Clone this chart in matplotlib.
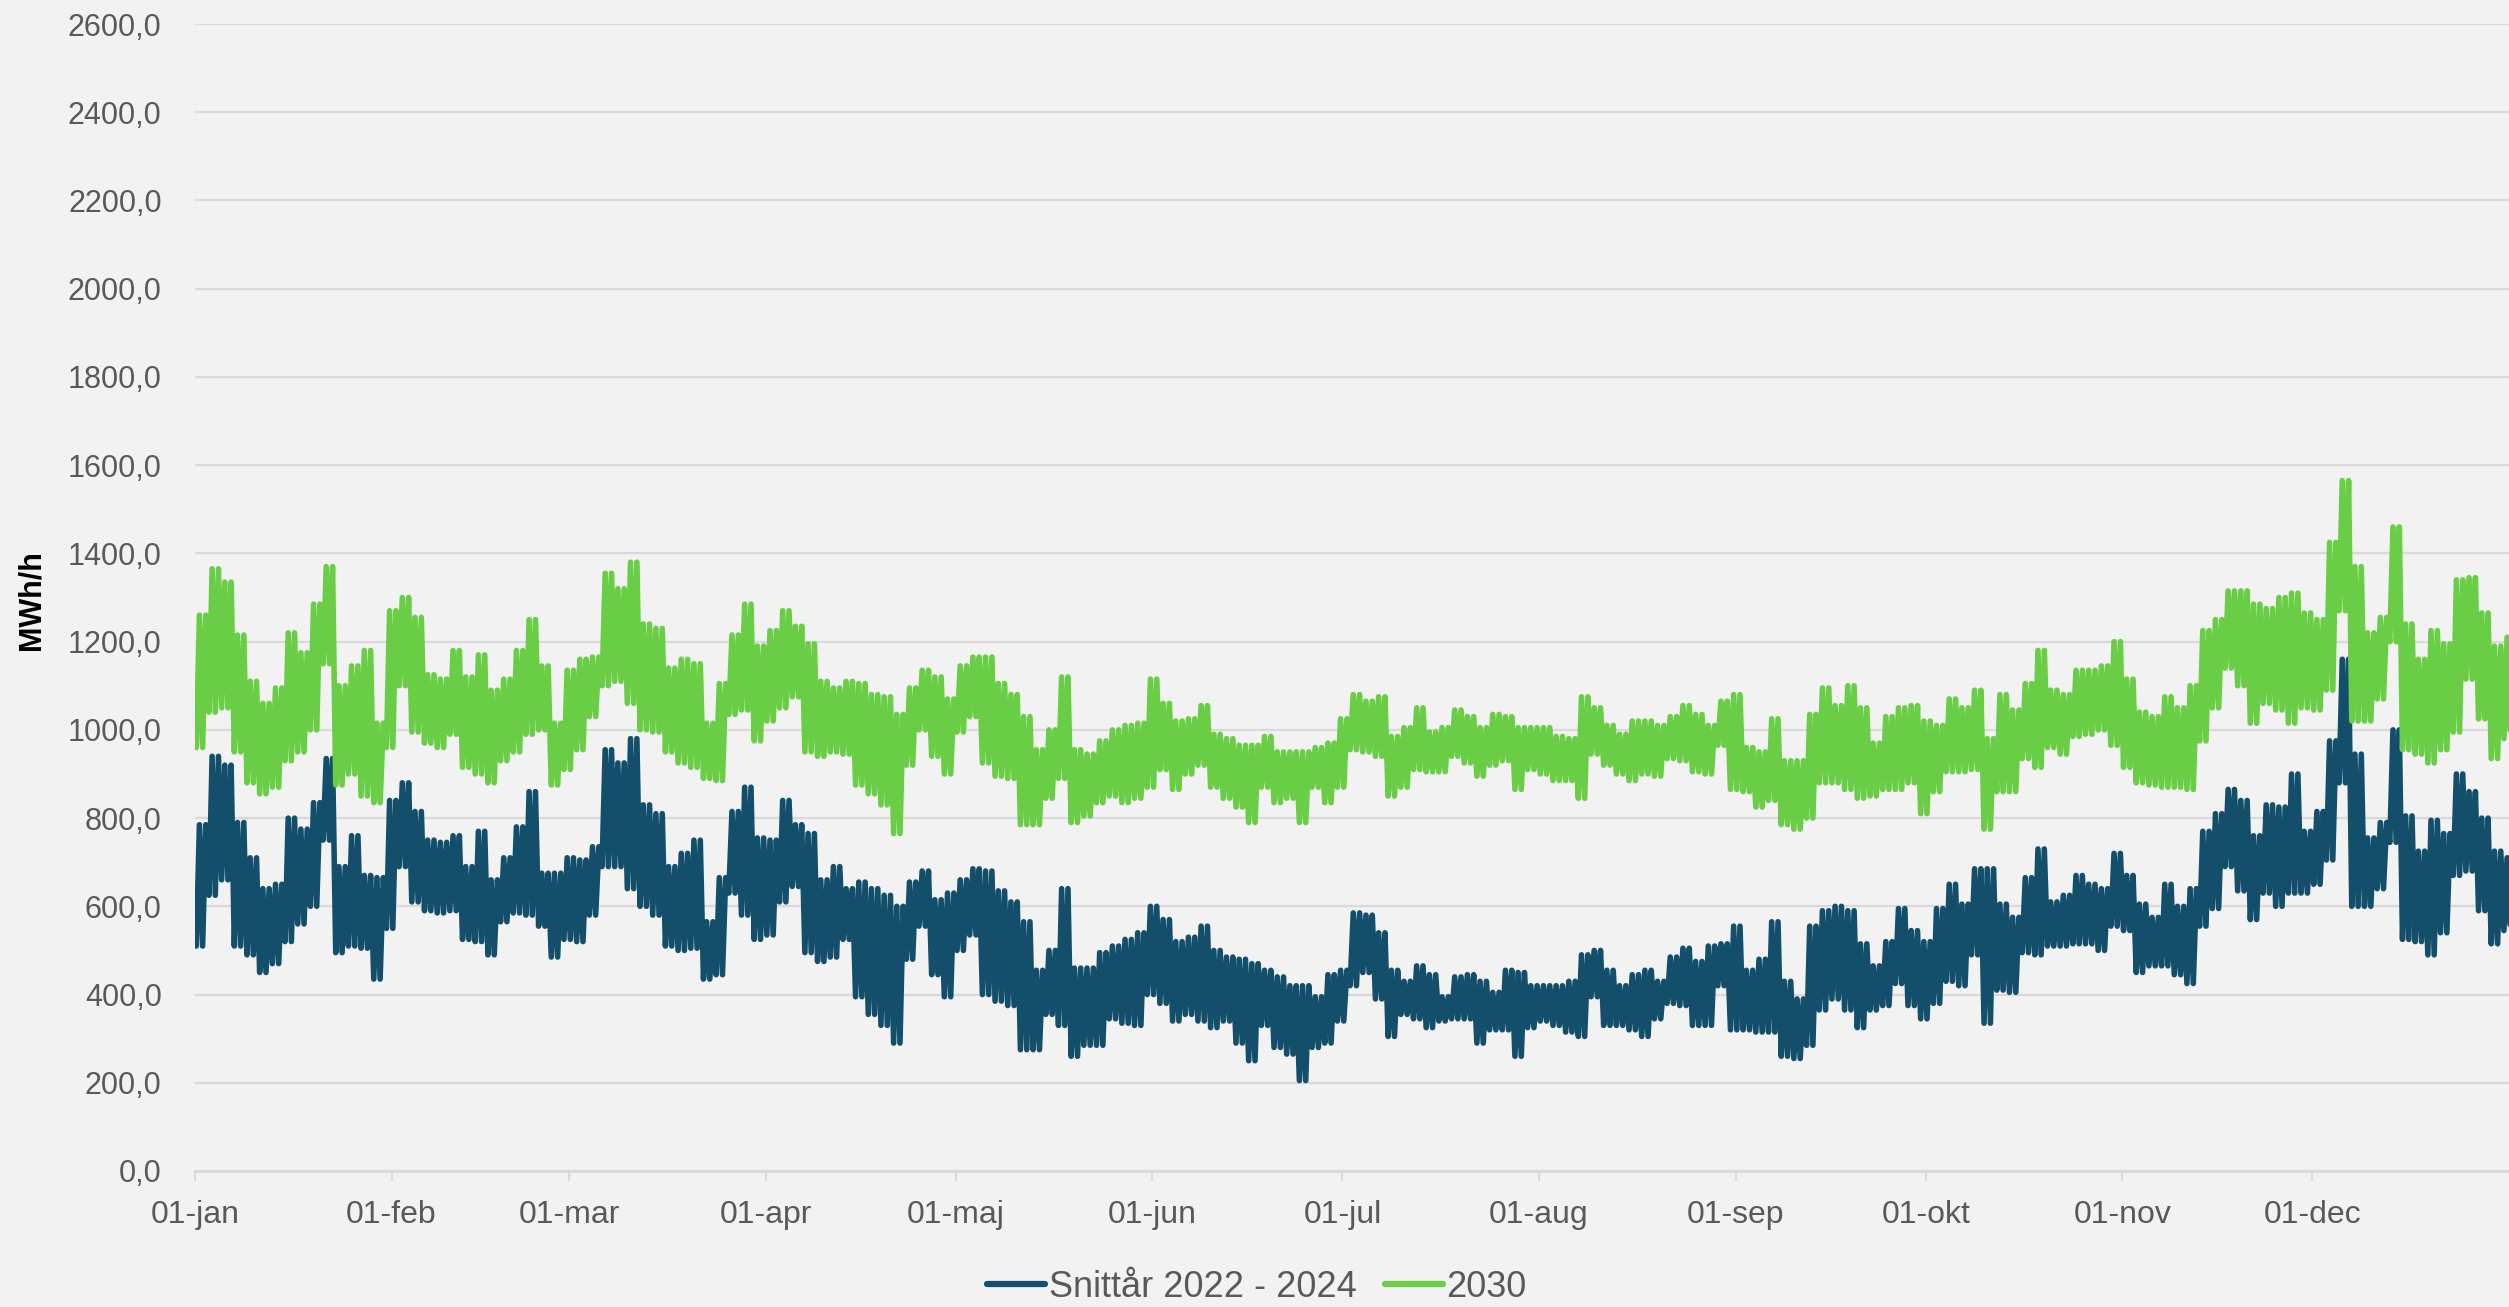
import numpy as np
import matplotlib
matplotlib.use("Agg")
import matplotlib.pyplot as plt
from matplotlib.lines import Line2D

# ---------------- data (2-day bins: daily low / high) ----------------
series_names = ["Snittår 2022 - 2024", "2030"]

bin_days = np.arange(0, 366, 2)  # start day of each 2-day bin (day 0 = 1 Jan)

blue_low = [510, 625, 660, 510, 490, 450, 470, 520, 560, 600, 750, 495, 510, 505, 435, 550, 690, 610, 590, 585,
            590, 525, 520, 490, 565, 585, 580, 555, 485, 525, 520, 580, 690, 690, 640, 600, 580, 510, 500, 505,
            435, 445, 630, 580, 525, 535, 610, 645, 495, 475, 485, 525, 395, 355, 330, 290, 480, 555, 445, 395,
            500, 535, 400, 385, 375, 275, 275, 355, 330, 260, 285, 285, 345, 335, 330, 400, 380, 340, 355, 340,
            325, 340, 290, 250, 330, 280, 265, 205, 280, 290, 340, 420, 450, 390, 305, 355, 345, 325, 340, 345,
            345, 290, 320, 320, 260, 325, 340, 330, 315, 305, 395, 330, 330, 320, 305, 345, 380, 375, 330, 330,
            420, 320, 320, 315, 315, 260, 255, 285, 365, 390, 365, 325, 365, 375, 425, 375, 345, 380, 430, 420,
            490, 335, 410, 405, 495, 490, 510, 510, 515, 515, 500, 555, 545, 450, 465, 465, 445, 425, 555, 595,
            690, 635, 570, 630, 600, 630, 630, 650, 705, 880, 600, 600, 640, 745, 525, 520, 490, 540, 670, 680,
            590, 515, 545]
blue_high = [785, 940, 920, 790, 710, 640, 650, 800, 775, 835, 935, 690, 760, 670, 665, 840, 880, 815, 750, 745,
             760, 690, 770, 660, 710, 780, 860, 675, 675, 710, 705, 735, 955, 925, 980, 830, 810, 690, 720, 750,
             565, 665, 815, 870, 755, 750, 840, 785, 765, 660, 690, 640, 655, 640, 625, 600, 655, 680, 615, 630,
             660, 685, 680, 635, 610, 565, 455, 500, 640, 460, 460, 495, 510, 525, 540, 600, 570, 520, 530, 555,
             500, 485, 480, 470, 455, 440, 420, 420, 395, 445, 455, 585, 580, 540, 455, 430, 465, 445, 395, 440,
             445, 430, 405, 455, 450, 420, 420, 420, 430, 490, 500, 455, 420, 445, 455, 430, 485, 505, 475, 510,
             515, 555, 455, 480, 565, 430, 390, 555, 590, 600, 590, 515, 465, 520, 595, 545, 520, 595, 650, 605,
             685, 685, 605, 575, 665, 730, 610, 625, 670, 650, 640, 720, 670, 605, 575, 650, 600, 640, 770, 810,
             865, 840, 760, 830, 825, 900, 770, 815, 975, 1160, 945, 755, 790, 1000, 805, 725, 795, 765, 900, 860,
             800, 725, 710]
green_low = [960, 1040, 1050, 950, 880, 855, 870, 930, 950, 1000, 1150, 875, 900, 850, 835, 960, 1100, 995, 970, 960,
             990, 915, 900, 880, 930, 950, 990, 1000, 875, 910, 955, 1030, 1100, 1110, 1060, 1000, 995, 950, 925, 915,
             890, 885, 1035, 1045, 975, 1020, 1050, 1075, 950, 940, 950, 945, 875, 855, 830, 765, 920, 1000, 940, 900,
             995, 1030, 925, 895, 890, 785, 785, 845, 890, 790, 805, 835, 850, 835, 845, 870, 910, 865, 900, 920,
             870, 845, 825, 790, 870, 835, 845, 790, 870, 835, 870, 955, 950, 940, 850, 870, 910, 905, 905, 940,
             925, 895, 920, 930, 865, 910, 900, 885, 885, 845, 945, 920, 900, 885, 900, 895, 935, 930, 905, 900,
             965, 865, 860, 825, 840, 785, 775, 800, 880, 880, 865, 845, 850, 865, 865, 880, 810, 860, 905, 905,
             910, 775, 860, 860, 935, 915, 960, 945, 985, 990, 1000, 965, 915, 880, 875, 870, 870, 865, 975, 1050,
             1140, 1100, 1015, 1060, 1045, 1015, 1050, 1045, 1090, 1270, 1020, 1020, 1070, 1200, 955, 945, 925, 955, 995, 1115,
             1025, 935, 980]
green_high = [1260, 1365, 1335, 1215, 1110, 1060, 1095, 1220, 1175, 1285, 1370, 1100, 1145, 1180, 1015, 1270, 1300, 1255, 1125, 1115,
              1180, 1120, 1170, 1090, 1115, 1180, 1250, 1145, 1015, 1135, 1160, 1165, 1355, 1320, 1380, 1240, 1230, 1140, 1160, 1150,
              1015, 1105, 1215, 1285, 1190, 1225, 1270, 1235, 1195, 1110, 1095, 1110, 1105, 1080, 1075, 1035, 1095, 1135, 1120, 1070,
              1145, 1165, 1165, 1105, 1080, 1030, 955, 1000, 1120, 955, 945, 975, 1000, 1010, 1015, 1115, 1060, 1020, 1025, 1055,
              990, 980, 965, 965, 985, 950, 950, 950, 960, 970, 1025, 1080, 1065, 1075, 985, 1005, 1050, 995, 1005, 1045,
              1030, 1005, 1035, 1030, 1005, 1005, 1005, 985, 980, 1075, 1050, 1010, 990, 1020, 1020, 1010, 1030, 1055, 1035, 1010,
              1065, 1080, 960, 950, 1025, 930, 930, 1035, 1095, 1055, 1100, 1050, 970, 1030, 1050, 1055, 1020, 1010, 1070, 1050,
              1090, 980, 1080, 1045, 1105, 1180, 1090, 1080, 1135, 1135, 1145, 1200, 1115, 1040, 1030, 1075, 1050, 1100, 1225, 1250,
              1315, 1315, 1285, 1275, 1300, 1310, 1265, 1250, 1425, 1565, 1370, 1220, 1255, 1460, 1240, 1160, 1225, 1195, 1340, 1345,
              1265, 1190, 1210]

month_start_days = [0, 31, 59, 90, 120, 151, 181, 212, 243, 273, 304, 334]
month_labels = ["01-jan", "01-feb", "01-mar", "01-apr", "01-maj", "01-jun",
                "01-jul", "01-aug", "01-sep", "01-okt", "01-nov", "01-dec"]
y_ticks = list(range(0, 2601, 200))

# ---------------- style ----------------
BLUE = "#134F6B"
GREEN = "#69CD46"
BG = "#F2F2F2"
GRID = "#D9D9D9"
TXT = "#595959"
plt.rcParams["font.family"] = ["Liberation Sans", "DejaVu Sans"]


def daily_swings(days, lows, highs):
    """Each 2-day bin: the read low/high shown as one swing per day."""
    days = np.asarray(days, dtype=float)
    n = len(days)
    x = np.empty(4 * n)
    y = np.empty(4 * n)
    for j, off in enumerate([0.2, 0.7, 1.2, 1.7]):
        x[j::4] = days + off
    y[0::4] = lows
    y[1::4] = highs
    y[2::4] = lows
    y[3::4] = highs
    return x, y


W, H = 2509, 1307
fig = plt.figure(figsize=(W / 100, H / 100), dpi=100, facecolor=BG)
ax = fig.add_axes([195 / W, 1 - 1171 / H, (W - 195) / W, (1171 - 24) / H])
ax.set_facecolor(BG)

for lows, highs, col in [(blue_low, blue_high, BLUE), (green_low, green_high, GREEN)]:
    xz, yz = daily_swings(bin_days, lows, highs)
    ax.plot(xz, yz, color=col, lw=4.0, solid_joinstyle="round", solid_capstyle="round", zorder=3)

ax.set_xlim(0, 365)
ax.set_ylim(0, 2600)
ax.set_yticks(y_ticks)
ax.set_yticklabels([f"{v:.1f}".replace(".", ",") for v in y_ticks], fontsize=22, color=TXT)
ax.set_xticks(month_start_days)
ax.set_xticklabels(month_labels, fontsize=23, color=TXT)
ax.tick_params(axis="y", length=0, pad=24)
ax.tick_params(axis="x", direction="out", length=7, width=1.5, color=GRID, pad=14)
ax.yaxis.grid(True, color=GRID, lw=1.6)
ax.set_axisbelow(True)
for s in ["top", "right", "left"]:
    ax.spines[s].set_visible(False)
ax.spines["bottom"].set_color(GRID)
ax.spines["bottom"].set_linewidth(2)

fig.text(32 / W, 1 - 600 / H, "MWh/h", rotation=90, ha="center", va="center",
         fontsize=22, fontweight="bold", color="black")

handles = [Line2D([], [], color=BLUE, lw=4.5, solid_capstyle="round"),
           Line2D([], [], color=GREEN, lw=4.5, solid_capstyle="round")]
leg = fig.legend(handles, series_names, loc="center", bbox_to_anchor=(0.501, 0.015), ncol=2,
                 frameon=False, handlelength=1.6, handletextpad=0.1, columnspacing=0.8, fontsize=26)
for t in leg.get_texts():
    t.set_color(TXT)

fig.savefig("out.png", dpi=100, facecolor=BG)
